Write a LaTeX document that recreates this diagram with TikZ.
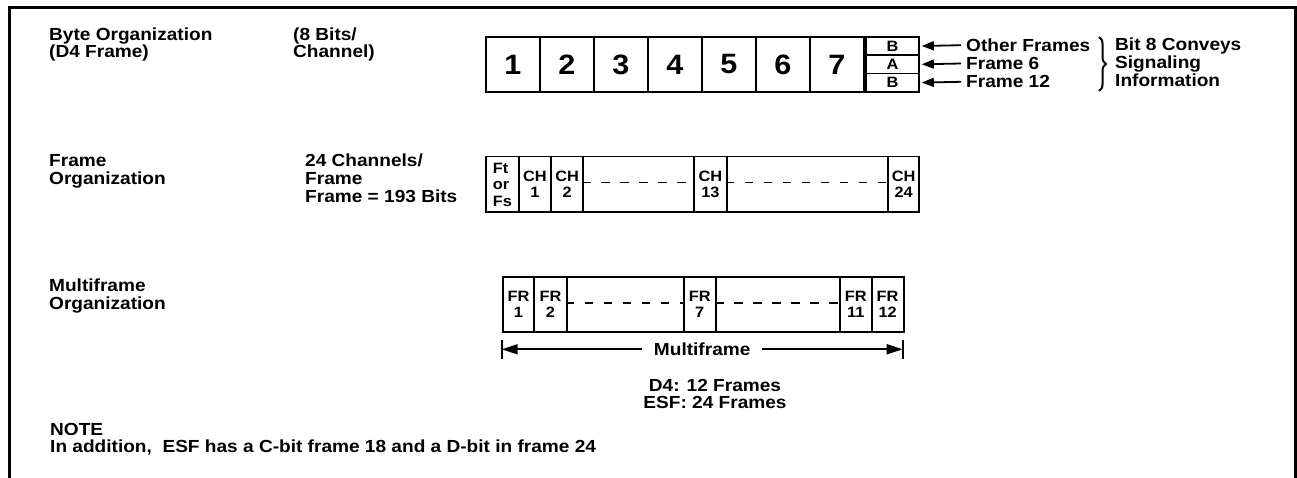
\documentclass[tikz,border=0pt]{standalone}
\usepackage{fontspec}
\setmainfont[FakeStretch=1.09]{Liberation Sans}
\usetikzlibrary{arrows.meta,positioning,decorations.pathreplacing}
\tikzset{
    lbl/.style={anchor=base west,align=left,inner sep=0pt,font=\bfseries\fontsize{17.5}{18}\selectfont},
    cell/.style={draw,line width=1.8pt,anchor=north west,inner sep=0pt,align=center,font=\bfseries\fontsize{15}{16.5}\selectfont},
    bytecell/.style={cell,minimum width=54pt,minimum height=55pt,font=\bfseries\fontsize{28}{28}\selectfont},
    bitcell/.style={cell,minimum width=53pt,minimum height=18.3pt},
    gapdash/.style={line width=1.8pt,dash pattern=on 8.5pt off 10.5pt},
    sigarrow/.style={-{Triangle[length=12pt,width=9pt]},line width=1.8pt}
}

\begin{document}
\begin{tikzpicture}[x=1pt,y=-1pt]
\useasboundingbox (0,0) rectangle (1297,478);

% outer frame, open at the bottom
\draw[line width=3pt] (9,478) -- (9,7.5) -- (1295,7.5) -- (1295,478);

% row labels (anchored at the baseline of the last line)
\node[lbl,font=\bfseries\fontsize{17.5}{12.8}\selectfont] (byteL) at (49,57.8) {Byte Organization\\(D4 Frame)};
\node[lbl,font=\bfseries\fontsize{17.5}{12.8}\selectfont] (bitsL) at (293,57.8) {(8 Bits/\\Channel)};
\node[lbl] (frameL) at (49,185) {Frame\\Organization};
\node[lbl] (chanL) at (305,203) {24 Channels/\\Frame\\Frame = 193 Bits};
\node[lbl] (multiL) at (49,309) {Multiframe\\Organization};

% byte organization
\foreach \i in {1,...,7}
    \node[bytecell] (byte\i) at ({485+54*(\i-1)},36) {\i};
\node[bitcell] (bitB1) at (865,36) {B};
\node[bitcell] (bitA) at (865,54.3) {A};
\node[bitcell] (bitB2) at (865,72.6) {B};

\node[lbl,anchor=west,inner xsep=5pt] (othF) at (961,45.2) {Other Frames};
\node[lbl,anchor=west,inner xsep=5pt] (fr6) at (961,63.5) {Frame 6};
\node[lbl,anchor=west,inner xsep=5pt] (fr12) at (961,81.8) {Frame 12};
\draw[sigarrow,shorten >=2pt] (othF.west) -- (bitB1.east);
\draw[sigarrow,shorten >=2pt] (fr6.west) -- (bitA.east);
\draw[sigarrow,shorten >=2pt] (fr12.west) -- (bitB2.east);

\coordinate (brT) at (1099,37);
\coordinate (brB) at (1099,91);
\draw[line width=2pt,decorate,decoration={brace,amplitude=7pt}] (brT) -- (brB);
\node[lbl] (bit8L) at (1115,87) {Bit 8 Conveys\\Signaling\\Information};

% frame organization
\node[cell,align=left,minimum width=33pt,minimum height=55.8pt] (ftfs) at (485,155.7) {Ft\\or\\Fs};
\foreach \nm/\xa/\w/\txt in {ch1/518/32/{CH\\1}, ch2/550/32.3/{CH\\2}, gapA/582.3/111/{}, ch13/693.3/32.4/{CH\\13}, gapB/725.7/161.6/{}, ch24/887.3/31/{CH\\24}}
    \node[cell,minimum width=\w pt,minimum height=55.8pt] (\nm) at (\xa,155.7) {\txt};
\draw[gapdash] ([yshift=2pt]gapA.west) -- ([yshift=2pt]gapA.east);
\draw[gapdash] ([yshift=2pt]gapB.west) -- ([yshift=2pt]gapB.east);

% multiframe organization
\foreach \nm/\xa/\w/\txt in {fr1/501.7/31.6/{FR\\1}, fr2/533.3/32.4/{FR\\2}, gapC/565.7/117/{}, fr7/682.7/32.3/{FR\\7}, gapD/715/124/{}, fr11/839/31.7/{FR\\11}, fr12/870.7/32/{FR\\12}}
    \node[cell,minimum width=\w pt,minimum height=55.3pt] (\nm) at (\xa,275.7) {\txt};
\draw[gapdash] ([yshift=1pt]gapC.west) -- ([yshift=1pt]gapC.east);
\draw[gapdash] ([yshift=1pt]gapD.west) -- ([yshift=1pt]gapD.east);

\coordinate (mfL) at (501.7,349.3);
\coordinate (mfR) at (902.7,349.3);
\draw[line width=1.8pt] ([yshift=9.5pt]mfL) -- ([yshift=-9.5pt]mfL);
\draw[line width=1.8pt] ([yshift=9.5pt]mfR) -- ([yshift=-9.5pt]mfR);
\draw[{Triangle[length=16pt,width=10pt]}-{Triangle[length=16pt,width=10pt]},line width=1.8pt] (mfL) -- node[fill=white,inner xsep=12pt,font=\bfseries\fontsize{17.5}{18}\selectfont] (mfT) {Multiframe} (mfR);

\node[lbl,anchor=base,align=center,font=\bfseries\fontsize{17.5}{17.5}\selectfont] (framesL) at (715,408.5) {D4: 12 Frames\\ESF: 24 Frames};

% note
\node[lbl,font=\bfseries\fontsize{17.5}{16.5}\selectfont] (noteL) at (50,452) {NOTE\\In addition,~ ESF has a C-bit frame 18 and a D-bit in frame 24};
\end{tikzpicture}
\end{document}
